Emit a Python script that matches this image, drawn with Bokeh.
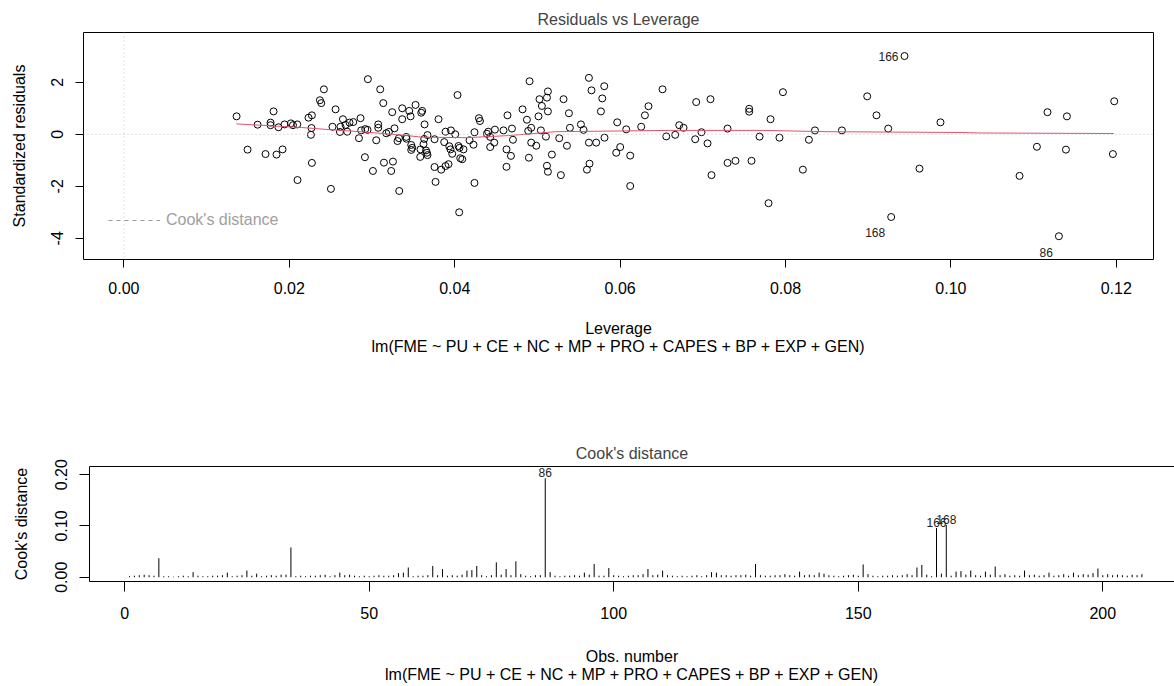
import numpy as np
from bokeh.plotting import figure
from bokeh.models import (Range1d, LinearAxis, Title, Span, Legend, LegendItem,
                          FixedTicker, ColumnDataSource)
from bokeh.layouts import column
from bokeh.embed import file_html
from bokeh.resources import INLINE
from bokeh.core.properties import value

# ---------------- data: Residuals vs Leverage ----------------
leverage = [
    0.01362, 0.01495, 0.01616, 0.01712, 0.01773, 0.01773, 0.01809, 0.01845, 0.01869, 0.01918,
    0.01942, 0.02019, 0.02044, 0.02096, 0.02099, 0.02232, 0.02273, 0.02268, 0.02261, 0.02273,
    0.02370, 0.02386, 0.02418, 0.02503, 0.02522, 0.02559, 0.02612, 0.02619, 0.02648, 0.02680,
    0.02728, 0.02773, 0.02700, 0.02842, 0.02861, 0.02869, 0.02918, 0.02946, 0.02914, 0.02950,
    0.03011, 0.03051, 0.03075, 0.03075, 0.03099, 0.03136, 0.03144, 0.03172, 0.03204, 0.03244,
    0.03253, 0.03232, 0.03272, 0.03308, 0.03325, 0.03329, 0.03365, 0.03365, 0.03414, 0.03417,
    0.03450, 0.03466, 0.03474, 0.03486, 0.03474, 0.03526, 0.03583, 0.03586, 0.03607, 0.03595,
    0.03631, 0.03623, 0.03635, 0.03652, 0.03664, 0.03671, 0.03671, 0.03756, 0.03756, 0.03768,
    0.03804, 0.03837, 0.03873, 0.03889, 0.03889, 0.03925, 0.03934, 0.03949, 0.03970, 0.03954,
    0.04006, 0.04034, 0.04046, 0.04058, 0.04054, 0.04067, 0.04091, 0.04106, 0.04179, 0.04239,
    0.04227, 0.04239, 0.04293, 0.04305, 0.04389, 0.04405, 0.04429, 0.04429, 0.04478, 0.04486,
    0.04590, 0.04638, 0.04626, 0.04626, 0.04680, 0.04692, 0.04704, 0.04820, 0.04873, 0.04897,
    0.04905, 0.04889, 0.04925, 0.04925, 0.04986, 0.05025, 0.05054, 0.05115, 0.05127, 0.05127,
    0.05013, 0.05042, 0.05103, 0.05115, 0.05127, 0.05175, 0.05264, 0.05284, 0.05316, 0.05357,
    0.05381, 0.05393, 0.05526, 0.05558, 0.05599, 0.05630, 0.05623, 0.05654, 0.05623, 0.05711,
    0.05768, 0.05784, 0.05808, 0.05811, 0.05953, 0.06001, 0.05965, 0.06074, 0.06122, 0.06122,
    0.06255, 0.06300, 0.06343, 0.06513, 0.06558, 0.06666, 0.06715, 0.06767, 0.06920, 0.06908,
    0.06984, 0.07057, 0.07093, 0.07105, 0.07299, 0.07299, 0.07395, 0.07561, 0.07561, 0.07589,
    0.07686, 0.07795, 0.07819, 0.07927, 0.07969, 0.08210, 0.08283, 0.08356, 0.08682, 0.08988,
    0.09100, 0.09242, 0.09278, 0.09439, 0.09620, 0.09874, 0.10830, 0.11040, 0.11168, 0.11306,
    0.11391, 0.11403, 0.11959, 0.11975,
]
std_resid = [
    0.69, -0.59, 0.37, -0.76, 0.45, 0.35, 0.88, -0.78, 0.27, -0.58,
    0.38, 0.42, 0.35, 0.38, -1.76, 0.64, 0.73, 0.24, -0.02, -1.10,
    1.31, 1.20, 1.73, -2.10, 0.29, 0.96, 0.09, 0.29, 0.58, 0.36,
    0.45, 0.47, 0.10, -0.15, 0.62, 0.15, 0.20, 0.17, -0.88, 2.12,
    -1.41, -0.23, 0.38, 0.25, 1.73, 1.20, -1.09, 0.04, 0.09, 0.85,
    -1.05, -1.41, 0.23, -0.26, -0.15, -2.18, 1.00, 0.58, -0.10, -0.17,
    0.90, 0.69, -0.41, -0.52, -0.60, 1.13, -0.87, -0.58, 0.90, 0.83,
    -0.18, -0.38, 0.38, -0.62, -0.71, -0.80, -0.03, -0.19, -1.26, -1.83,
    0.58, -1.36, -0.30, 0.10, -1.22, -1.15, -0.46, -0.58, -0.75, 0.15,
    0.00, 1.51, -0.45, -0.52, -3.00, -0.92, -0.96, -0.58, -0.23, 0.08,
    -0.40, -1.87, 0.62, 0.51, 0.02, 0.10, -0.10, -0.49, -0.32, 0.18,
    0.15, 0.73, -0.58, -1.25, -0.83, 0.22, -0.21, 0.96, 0.56, -0.90,
    2.04, 0.13, 0.25, -0.32, -0.44, 1.35, 1.09, 1.41, 1.65, 0.88,
    0.69, 0.15, -0.09, -1.21, -1.44, -0.78, -0.15, -1.57, 1.35, -0.44,
    0.81, 0.25, 0.38, 0.17, -1.36, -1.13, 2.17, 1.69, -0.32, -0.32,
    0.88, 1.38, 1.85, -0.13, -0.71, -0.49, 0.46, 0.19, -0.82, -1.99,
    0.29, 0.73, 1.08, 1.73, -0.08, -0.02, 0.35, 0.25, 1.24, -0.19,
    0.08, -0.35, 1.35, -1.57, 0.22, -1.10, -1.02, 0.98, 0.87, -1.02,
    -0.09, -2.65, 0.58, -0.13, 1.62, -1.36, -0.21, 0.15, 0.15, 1.46,
    0.73, 0.22, -3.18, 3.01, -1.32, 0.46, -1.60, -0.48, 0.85, -3.92,
    -0.59, 0.69, -0.76, 1.27,
]
# labels of the 3 largest |standardized residuals|, largest first
resid_id_labels = ["86", "168", "166"]

# red smoother
smooth_lev = [0.0136, 0.0215, 0.0244, 0.0290, 0.0340, 0.0360, 0.0414, 0.0465,
              0.0522, 0.0661, 0.0773, 0.0849, 0.1011, 0.1036, 0.1197]
smooth_res = [0.40, 0.26, 0.19, 0.09, -0.04, -0.11, -0.13, -0.05,
              0.10, 0.15, 0.15, 0.10, 0.07, 0.05, 0.03]

lev_ticks = [0.0, 0.02, 0.04, 0.06, 0.08, 0.10, 0.12]
lev_tick_labels = ["0.00", "0.02", "0.04", "0.06", "0.08", "0.10", "0.12"]
res_ticks = [-4, -2, 0, 2]
res_tick_labels = ["-4", "-2", "0", "2"]

# ---------------- data: Cook's distance ----------------
cooks_d = [
    0.002, 0.003, 0.004, 0.005, 0.004, 0.003, 0.037, 0.002, 0.002, 0.001,
    0.002, 0.003, 0.002, 0.010, 0.003, 0.002, 0.002, 0.003, 0.003, 0.004,
    0.009, 0.002, 0.003, 0.004, 0.013, 0.003, 0.007, 0.002, 0.003, 0.004,
    0.003, 0.005, 0.005, 0.058, 0.002, 0.003, 0.002, 0.003, 0.003, 0.004,
    0.005, 0.002, 0.004, 0.009, 0.004, 0.005, 0.003, 0.002, 0.003, 0.002,
    0.003, 0.004, 0.003, 0.003, 0.004, 0.008, 0.009, 0.019, 0.002, 0.003,
    0.003, 0.004, 0.022, 0.004, 0.016, 0.003, 0.004, 0.003, 0.005, 0.013,
    0.014, 0.022, 0.004, 0.002, 0.004, 0.029, 0.005, 0.016, 0.004, 0.031,
    0.006, 0.003, 0.002, 0.004, 0.004, 0.193, 0.010, 0.003, 0.002, 0.003,
    0.003, 0.004, 0.003, 0.009, 0.005, 0.026, 0.003, 0.003, 0.018, 0.004,
    0.003, 0.002, 0.003, 0.004, 0.004, 0.006, 0.016, 0.004, 0.005, 0.013,
    0.004, 0.003, 0.002, 0.003, 0.002, 0.003, 0.004, 0.002, 0.004, 0.010,
    0.009, 0.004, 0.004, 0.003, 0.004, 0.004, 0.005, 0.003, 0.026, 0.004,
    0.003, 0.003, 0.004, 0.004, 0.006, 0.004, 0.003, 0.011, 0.004, 0.005,
    0.004, 0.009, 0.007, 0.004, 0.003, 0.002, 0.003, 0.004, 0.005, 0.003,
    0.025, 0.006, 0.003, 0.002, 0.003, 0.003, 0.004, 0.003, 0.004, 0.006,
    0.004, 0.019, 0.024, 0.005, 0.002, 0.096, 0.007, 0.102, 0.003, 0.011,
    0.012, 0.005, 0.013, 0.004, 0.003, 0.011, 0.005, 0.021, 0.004, 0.006,
    0.003, 0.004, 0.003, 0.013, 0.004, 0.005, 0.003, 0.004, 0.009, 0.003,
    0.004, 0.006, 0.003, 0.009, 0.004, 0.006, 0.005, 0.008, 0.017, 0.004,
    0.006, 0.004, 0.005, 0.004, 0.003, 0.005, 0.004, 0.006,
]
obs_number = list(range(1, len(cooks_d) + 1))
cook_ticks = [0.0, 0.1, 0.2]
cook_tick_labels = ["0.00", "0.10", "0.20"]
obs_ticks = [0, 50, 100, 150, 200]
obs_tick_labels = ["0", "50", "100", "150", "200"]

model_caption = "lm(FME ~ PU + CE + NC + MP + PRO + CAPES + BP + EXP + GEN)"

FONT = "Liberation Sans"
FS = "16px"
GREY = "#BEBEBE"
RED = "#DF536B"


def style_axis(ax, ticks, labels, tick_out):
    ax.ticker = FixedTicker(ticks=ticks)
    ax.major_label_overrides = {t: l for t, l in zip(ticks, labels)}
    ax.major_tick_out = tick_out
    ax.major_tick_in = 0
    ax.minor_tick_line_color = None
    ax.major_tick_line_color = "black"
    ax.major_label_text_font = FONT
    ax.major_label_text_font_size = FS
    ax.major_label_text_color = "black"
    ax.axis_label_text_font = FONT
    ax.axis_label_text_font_size = FS
    ax.axis_label_text_font_style = "normal"
    ax.axis_label_text_color = "black"
    ax.axis_label_text_line_height = 1.0


def caption_title(text, standoff):
    return Title(text=text, align="center", text_font=FONT, text_font_size=FS,
                 text_font_style="normal", text_line_height=1.0, standoff=standoff)


def no_frame_align(p):
    try:
        p.frame_align = False
    except Exception:
        pass


# ================= top figure =================
p1 = figure(width=1174, height=360, output_backend="svg", toolbar_location=None,
            x_range=Range1d(-0.00489, 0.1245), y_range=Range1d(-4.815, 3.915),
            min_border_left=83, min_border_right=21, min_border_top=32,
            min_border_bottom=101)
no_frame_align(p1)
p1.grid.visible = False
p1.outline_line_color = "black"
p1.outline_line_alpha = 1
p1.background_fill_color = "white"
p1.border_fill_color = "white"

style_axis(p1.xaxis[0], lev_ticks, lev_tick_labels, 8)
p1.xaxis.axis_line_color = None
p1.xaxis.major_label_standoff = 14
p1.xaxis.axis_label = "Leverage\n" + model_caption
p1.xaxis.axis_label_text_line_height = 1.1
p1.xaxis.axis_label_standoff = 23

style_axis(p1.yaxis[0], res_ticks, res_tick_labels, 8)
p1.yaxis.axis_line_color = None
p1.yaxis.major_label_orientation = "vertical"
p1.yaxis.major_label_standoff = 12
p1.yaxis.axis_label = "Standardized residuals"
p1.yaxis.axis_label_standoff = 21

p1.add_layout(Span(location=0, dimension="width", line_color=GREY,
                   line_dash="1 3", line_width=1))
p1.add_layout(Span(location=0, dimension="height", line_color=GREY,
                   line_dash="1 3", line_width=1))

p1.scatter(leverage, std_resid, marker="circle", size=7, fill_color=None,
           line_color="black", line_width=1)
p1.line(smooth_lev, smooth_res, line_color=RED, line_width=1)

# labels for the largest residuals
order = np.argsort(-np.abs(np.array(std_resid)))[:len(resid_id_labels)]
lab_x = [leverage[i] for i in order]
lab_y = [std_resid[i] for i in order]
lab_dy = [0 if std_resid[i] > 0 else 16 for i in order]
p1.text(x=lab_x, y=lab_y, text=resid_id_labels, x_offset=-6, y_offset=lab_dy,
        text_align="right", text_baseline="middle", text_font=value(FONT),
        text_font_size="12px", text_color="#222222")

# Cook's distance legend (the contour lines fall outside the plotted range)
cook_line = p1.line([float("nan")], [float("nan")], line_color="#999999",
                    line_dash="4 4", line_width=1)
leg = Legend(items=[LegendItem(label="Cook's distance", renderers=[cook_line])],
             location=(25, 30), border_line_color=None, background_fill_alpha=0,
             padding=0, margin=0, glyph_width=52, glyph_height=16,
             label_height=16, label_standoff=6, label_text_color="#A0A0A0",
             label_text_font=FONT, label_text_font_size=FS)
p1.add_layout(leg)

p1.add_layout(caption_title("Residuals vs Leverage", 10), "above")

# ================= bottom figure =================
p2 = figure(width=1174, height=326, output_backend="svg", toolbar_location=None,
            x_range=Range1d(-7.18, 214.66), y_range=Range1d(-0.0083, 0.216),
            min_border_left=89, min_border_right=0, min_border_top=106,
            min_border_bottom=104)
no_frame_align(p2)
p2.grid.visible = False
p2.outline_line_color = None
p2.background_fill_color = "white"
p2.border_fill_color = "white"

style_axis(p2.xaxis[0], obs_ticks, obs_tick_labels, 10)
p2.xaxis.axis_line_color = "black"
p2.xaxis.major_label_standoff = 15
p2.xaxis.axis_label = "Obs. number\n" + model_caption
p2.xaxis.axis_label_text_line_height = 1.1
p2.xaxis.axis_label_standoff = 26

style_axis(p2.yaxis[0], cook_ticks, cook_tick_labels, 10)
p2.yaxis.axis_line_color = "black"
p2.yaxis.major_label_orientation = "vertical"
p2.yaxis.major_label_standoff = 12
p2.yaxis.axis_label = "Cook's distance"
p2.yaxis.axis_label_standoff = 23

top_axis = LinearAxis(axis_line_color="black", ticker=FixedTicker(ticks=[]),
                      major_tick_line_color=None, minor_tick_line_color=None,
                      major_label_standoff=0, major_tick_out=0, major_tick_in=0)
p2.add_layout(top_axis, "above")

src = ColumnDataSource(dict(obs=obs_number, cook=cooks_d, zero=[0.0] * len(cooks_d)))
p2.segment(x0="obs", y0="zero", x1="obs", y1="cook", source=src,
           line_color="black", line_width=1)

top_c = np.argsort(-np.array(cooks_d))[:3]
p2.text(x=[obs_number[i] for i in top_c], y=[cooks_d[i] for i in top_c],
        text=[str(obs_number[i]) for i in top_c], text_align="center",
        text_baseline="bottom", y_offset=-1, text_font=value(FONT),
        text_font_size="12px", text_color="#222222")

p2.add_layout(caption_title("Cook's distance", 10), "above")

layout = column(p1, p2, spacing=0)
open("out.html", "w").write(file_html(layout, INLINE))
